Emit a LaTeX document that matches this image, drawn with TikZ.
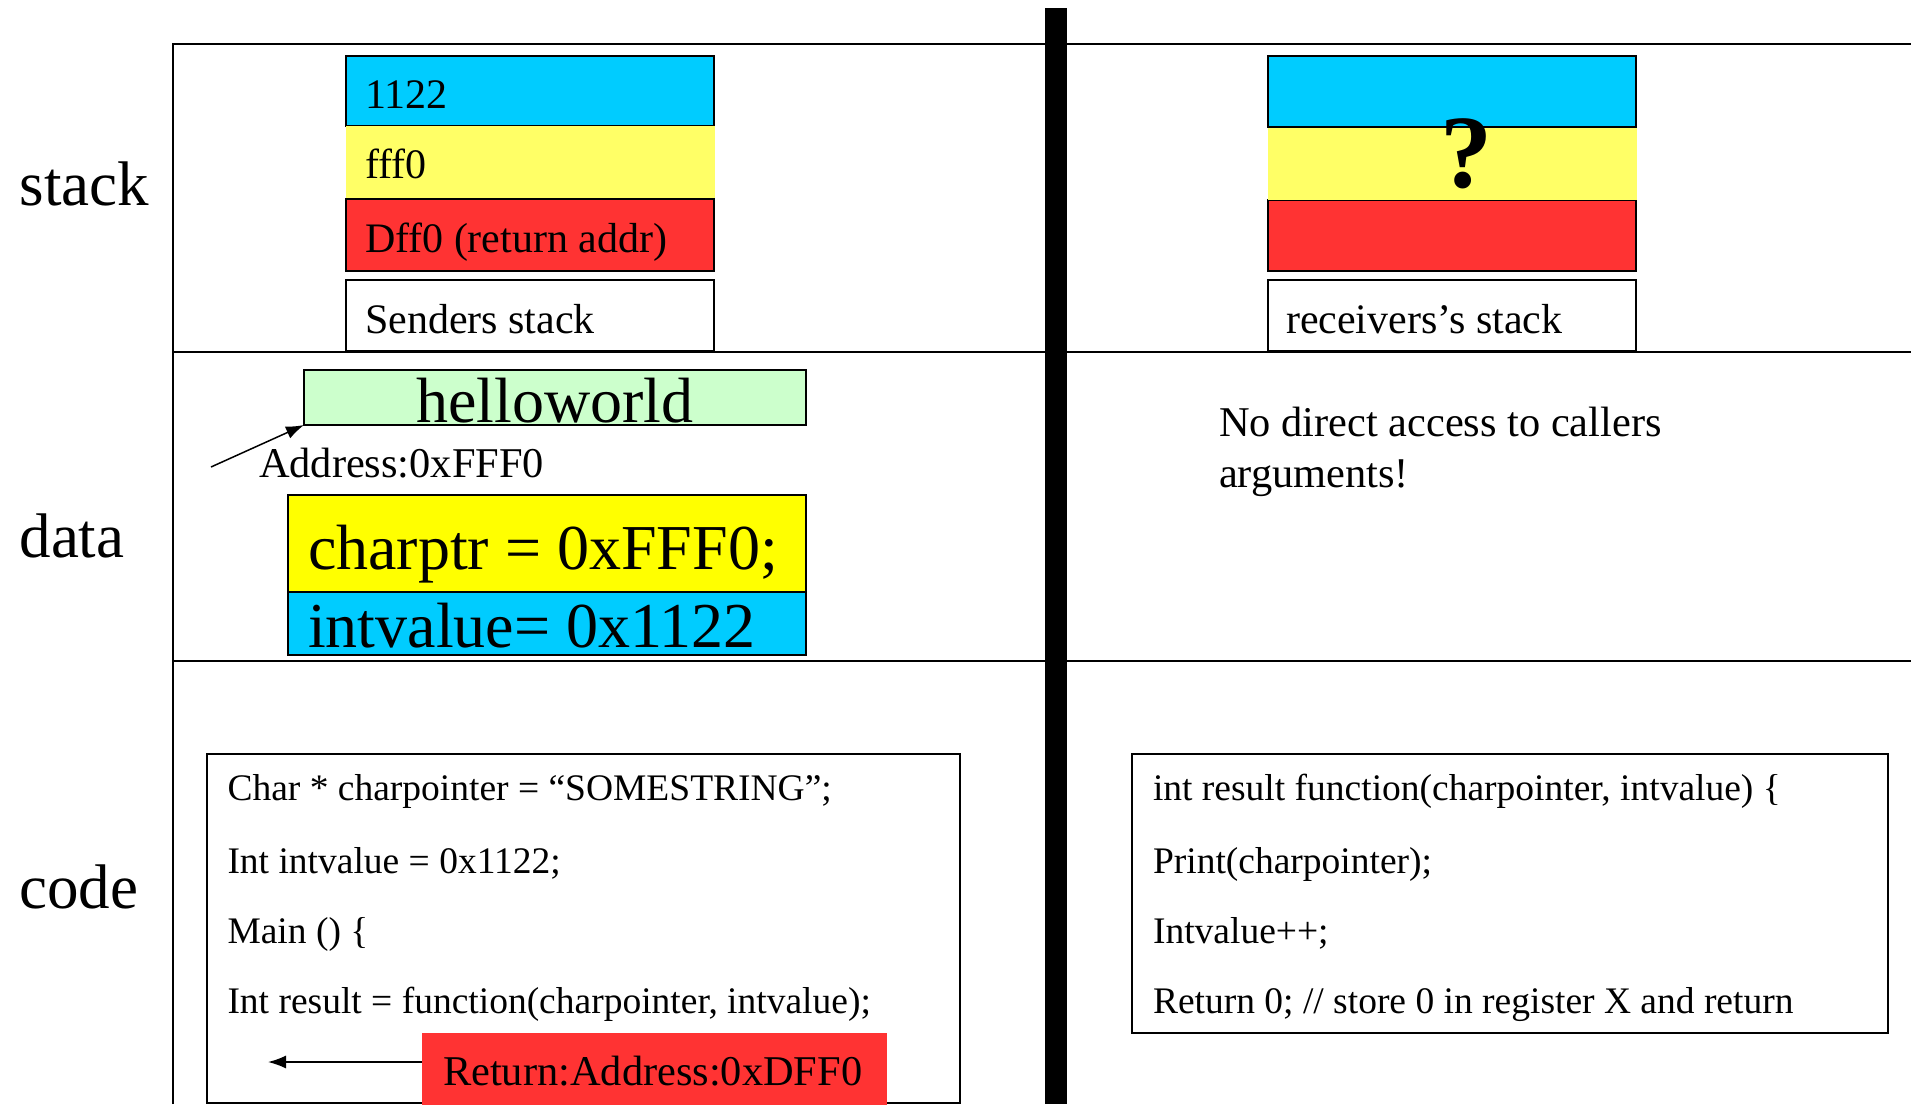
\documentclass[tikz,border=0pt]{standalone}
\usepackage{fontspec}
\setmainfont{Liberation Serif}
\usetikzlibrary{arrows.meta}
\definecolor{skyc}{HTML}{00CCFF}
\definecolor{paleyel}{HTML}{FFFF66}
\definecolor{brightyel}{HTML}{FFFF00}
\definecolor{hotred}{HTML}{FF3333}
\definecolor{mint}{HTML}{CCFFCC}
\newcommand\fLab{\fontsize{31.5pt}{36pt}\selectfont}
\newcommand\fCell{\fontsize{21pt}{24pt}\selectfont}
\newcommand\fData{\fontsize{32pt}{36pt}\selectfont}
\newcommand\fNote{\fontsize{21.2pt}{25.5pt}\selectfont}
\newcommand\fCode{\fontsize{18.75pt}{22pt}\selectfont}
\begin{document}
\begin{tikzpicture}[x=0.5pt,y=-0.5pt,
  txt/.style={anchor=base west, inner sep=0pt, outer sep=0pt},
  cell/.style={anchor=north west, inner sep=0pt, outer sep=0pt, line width=1pt},
  thinbox/.style={anchor=north west, inner sep=0pt, outer sep=0pt, line width=0.75pt},
  sep/.style={line width=1.3pt},
  arr/.style={-{Latex[length=9pt,width=6.5pt]}, line width=0.75pt}]
\useasboundingbox (0,0) rectangle (1911,1104);

% frame of the three memory regions
\draw[line width=0.8pt] (173,1104) -- (173,44) -- (1911,44);
\draw[sep] (173,352) -- (1911,352);
\draw[sep] (173,661) -- (1911,661);

% region labels
\node[txt] (lstack) at (19.5,205) {\fLab stack};
\node[txt] (ldata)  at (19.5,557) {\fLab data};
\node[txt] (lcode)  at (19.5,908) {\fLab code};

% sender's stack frame
\node[cell, draw, fill=skyc, minimum width=184pt, minimum height=35pt] (sblue) at (346,56) {};
\node[cell, fill=paleyel, minimum width=184.5pt, minimum height=36.5pt] (syel) at (346,126) {};
\node[cell, draw, fill=hotred, minimum width=184pt, minimum height=36pt] (sred) at (346,199) {};
\node[cell, draw, minimum width=184pt, minimum height=35.5pt] (sname) at (346,280) {};
\node[txt] (t1122) at (365,108) {\fCell 1122};
\node[txt] (tfff0) at (365,178) {\fCell fff0};
\node[txt] (tdff0) at (365,252) {\fCell Dff0 (return addr)};
\node[txt] (tsend) at (365,333) {\fCell Senders stack};

% receiver's stack frame
\node[cell, draw, fill=hotred, minimum width=184pt, minimum height=35.5pt] (rred) at (1268,200) {};
\node[cell, fill=paleyel, minimum width=184.5pt, minimum height=36.5pt] (ryel) at (1268,127) {};
\node[cell, draw, fill=skyc, minimum width=184pt, minimum height=35.5pt] (rblue) at (1268,56) {};
\node[cell, draw, minimum width=184pt, minimum height=35.5pt] (rname) at (1268,280) {};
\node[anchor=base, inner sep=0pt] (qmark) at (1466,187) {\fontsize{52pt}{60pt}\selectfont\bfseries ?};
\node[txt] (trecv) at (1286,333) {\fCell receivers’s stack};

% data segment
\node[thinbox, draw, fill=mint, minimum width=251pt, minimum height=27.5pt] (hello) at (304,370) {};
\node[anchor=base, inner sep=0pt] (thello) at (555,422) {\fontsize{32pt}{36pt}\selectfont helloworld};
\node[txt] (taddr) at (259,477) {\fNote Address:0xFFF0};
\coordinate (addrtail) at (211,467);
\draw[arr] (addrtail) -- (hello.south west);

\node[thinbox, draw, fill=brightyel, minimum width=259pt, minimum height=48.5pt] (cptr) at (288,495) {};
\node[thinbox, draw, fill=skyc, minimum width=259pt, minimum height=31.5pt] (ival) at (288,592) {};
\node[txt] (tcptr) at (308,569) {\fData charptr = 0xFFF0;};
\node[txt] (tival) at (308,647) {\fData intvalue= 0x1122};

\node[txt] (note1) at (1219,436) {\fNote No direct access to callers};
\node[txt] (note2) at (1219,487) {\fNote arguments!};

% code segment
\node[thinbox, draw, minimum width=376.5pt, minimum height=174.5pt] (codeL) at (207,754) {};
\node[txt] (cl1) at (227.5,800) {\fCode Char * charpointer = “SOMESTRING”;};
\node[txt] (cl2) at (227.5,873) {\fCode Int intvalue = 0x1122;};
\node[txt] (cl3) at (227.5,943) {\fCode Main () \{};
\node[txt] (cl4) at (227.5,1013) {\fCode Int result = function(charpointer, intvalue);};

\node[anchor=north west, inner sep=0pt, outer sep=0pt, fill=hotred, minimum width=232.5pt, minimum height=40pt] (retbox) at (422,1033) {};
\node[txt] (tret) at (443,1085) {\fNote Return:Address:0xDFF0};
\coordinate (rettip) at (268,1062);
\draw[arr] (retbox.west |- rettip) -- (rettip);

\node[thinbox, draw, minimum width=378pt, minimum height=139.5pt] (codeR) at (1132,754) {};
\node[txt] (cr1) at (1153,800) {\fCode int result function(charpointer, intvalue) \{};
\node[txt] (cr2) at (1153,873) {\fCode Print(charpointer);};
\node[txt] (cr3) at (1153,943) {\fCode Intvalue++;};
\node[txt] (cr4) at (1153,1013) {\fCode Return 0; // store 0 in register X and return};

% divider between caller and callee
\fill (1045,8) rectangle (1067,1104);
\end{tikzpicture}
\end{document}
